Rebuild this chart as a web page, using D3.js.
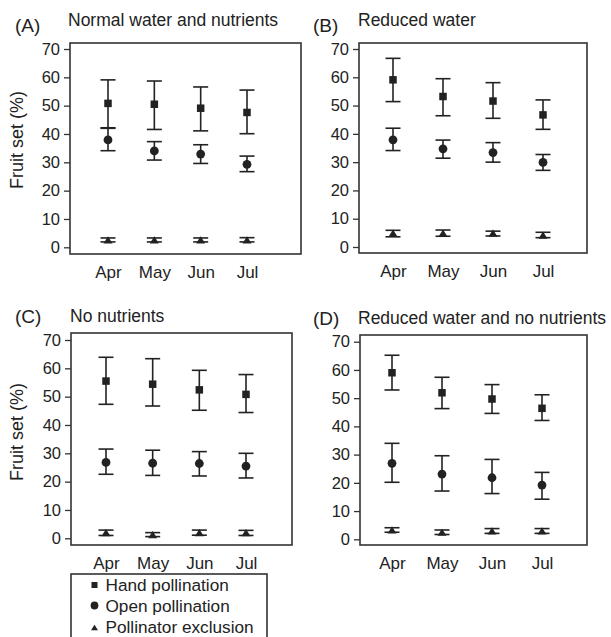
<!DOCTYPE html>
<html><head><meta charset="utf-8">
<script src="https://cdn.jsdelivr.net/npm/d3@7"></script>
<style>
html,body{margin:0;padding:0;background:#fff;}
svg{display:block;}
text{font-family:"Liberation Sans",Arial,Helvetica,sans-serif;fill:#222;}
</style></head><body>
<svg id="chart" width="611" height="637"></svg>
<script>
// ---- data: [mean, lower, upper] ----
const months = ["Apr", "May", "Jun", "Jul"];
const yTicks = [0, 10, 20, 30, 40, 50, 60, 70];
const panelLetters = ["(A)", "(B)", "(C)", "(D)"];
const panelTitles = ["Normal water and nutrients", "Reduced water", "No nutrients", "Reduced water and no nutrients"];
const seriesNames = ["Hand pollination", "Open pollination", "Pollinator exclusion"];

const handA = [[50.8, 42.2, 59.1], [50.5, 41.6, 58.7], [49.1, 41.1, 56.6], [47.6, 40.1, 55.5]];
const openA = [[37.9, 34.1, 42.0], [34.0, 30.8, 37.3], [32.9, 29.6, 36.2], [29.3, 26.7, 32.2]];
const exclA = [[2.6, 1.9, 3.3], [2.6, 1.9, 3.3], [2.6, 1.9, 3.3], [2.6, 1.9, 3.4]];

const handB = [[59.1, 51.4, 66.7], [53.2, 46.4, 59.5], [51.6, 45.5, 58.1], [46.7, 41.6, 52.0]];
const openB = [[37.9, 34.1, 42.0], [34.7, 31.4, 37.8], [33.4, 30.0, 36.9], [29.9, 27.1, 32.7]];
const exclB = [[4.9, 3.6, 5.9], [4.9, 3.8, 6.0], [4.9, 3.9, 5.6], [4.2, 3.3, 5.2]];

const handC = [[55.5, 47.3, 63.9], [54.4, 46.7, 63.4], [52.4, 45.2, 59.3], [50.8, 44.4, 57.8]];
const openC = [[26.8, 22.6, 31.5], [26.5, 22.2, 31.1], [26.4, 22.0, 30.6], [25.5, 21.3, 30.0]];
const exclC = [[2.0, 1.0, 2.9], [1.3, 0.6, 2.0], [2.0, 1.1, 2.9], [2.0, 1.0, 2.8]];

const handD = [[59.0, 52.9, 65.2], [51.9, 46.3, 57.4], [49.7, 44.6, 54.8], [46.4, 42.1, 51.2]];
const openD = [[26.9, 20.2, 34.0], [23.1, 17.1, 29.6], [21.8, 16.2, 28.3], [19.2, 14.2, 23.7]];
const exclD = [[3.3, 2.5, 4.1], [2.5, 1.7, 3.3], [3.0, 2.1, 3.8], [3.0, 2.1, 3.8]];

const panelData = [
  [handA, openA, exclA],
  [handB, openB, exclB],
  [handC, openC, exclC],
  [handD, openD, exclD]
];

// ---- layout ----
const layouts = [
  {box:[70,301,43,254], y0:247.3, y70:49,    xr:[108,247], letter:[15,32], title:[68,26],  ylab:[18,140]},
  {box:[359,587,43,253], y0:247,  y70:49,    xr:[393,543], letter:[313,32], title:[358,26], ylab:null},
  {box:[71,292,333,545], y0:538.3, y70:340,  xr:[106,246], letter:[15,323], title:[70,322], ylab:[18,432]},
  {box:[360,587,335,545], y0:539.3, y70:341.7, xr:[392,542], letter:[313,325], title:[358,324], ylab:null}
];

const ink = "#222";
const svg = d3.select("#chart");

function marker(g, type, x, y, s) {
  if (type === 0) {
    g.append("rect").attr("x", x - s/2).attr("y", y - s/2).attr("width", s).attr("height", s).attr("fill", ink);
  } else if (type === 1) {
    g.append("circle").attr("cx", x).attr("cy", y).attr("r", s/2 + 0.4).attr("fill", ink);
  } else {
    const h = s * 0.8;
    g.append("path").attr("d", `M${x - s/2},${y + h/2}L${x + s/2},${y + h/2}L${x},${y - h/2}Z`).attr("fill", ink);
  }
}

layouts.forEach((L, i) => {
  const g = svg.append("g");
  const [bl, br, bt, bb] = L.box;
  const y = d3.scaleLinear().domain([0, 70]).range([L.y0, L.y70]);
  const x = d3.scalePoint().domain(months).range(L.xr);

  // y axis
  const ax = g.append("g").attr("transform", `translate(${bl},0)`)
    .call(d3.axisLeft(y).tickValues(yTicks).tickSize(6).tickPadding(4));
  ax.select(".domain").remove();
  ax.selectAll(".tick line").attr("stroke", "#333").attr("stroke-width", 1.3);
  ax.selectAll(".tick text").attr("font-size", 16.5).style("fill", ink)
    .attr("font-family", "'Liberation Sans',Arial,sans-serif");

  // x axis labels (no ticks)
  const xa = g.append("g").attr("transform", `translate(0,${bb})`)
    .call(d3.axisBottom(x).tickSize(0).tickPadding(12));
  xa.select(".domain").remove();
  xa.selectAll(".tick text").attr("font-size", 17).style("fill", ink)
    .attr("font-family", "'Liberation Sans',Arial,sans-serif");

  // box
  g.append("rect").attr("x", bl).attr("y", bt).attr("width", br - bl).attr("height", bb - bt)
    .attr("fill", "none").attr("stroke", "#333").attr("stroke-width", 1.6);

  // titles
  g.append("text").attr("x", L.letter[0]).attr("y", L.letter[1]).attr("font-size", 19).text(panelLetters[i]);
  g.append("text").attr("x", L.title[0]).attr("y", L.title[1]).attr("font-size", 17.5).text(panelTitles[i]);
  if (L.ylab) {
    g.append("text").attr("transform", `translate(${L.ylab[0]},${L.ylab[1]}) rotate(-90)`)
      .attr("text-anchor", "middle").attr("dominant-baseline", "middle").attr("font-size", 18).text("Fruit set (%)");
  }

  // series
  const sizes = [7.5, 8, 9];
  panelData[i].forEach((series, si) => {
    series.forEach((d, mi) => {
      const cx = x(months[mi]);
      const [m, lo, hi] = d;
      const cap = 7.5;
      g.append("line").attr("x1", cx).attr("x2", cx).attr("y1", y(lo)).attr("y2", y(hi))
        .attr("stroke", ink).attr("stroke-width", 1.6);
      [lo, hi].forEach(v => g.append("line").attr("x1", cx - cap).attr("x2", cx + cap)
        .attr("y1", y(v)).attr("y2", y(v)).attr("stroke", ink).attr("stroke-width", 1.6));
      marker(g, si, cx, y(m), sizes[si]);
    });
  });
});

// legend
const lg = svg.append("g");
lg.append("rect").attr("x", 71).attr("y", 574).attr("width", 196).attr("height", 80)
  .attr("fill", "#fff").attr("stroke", "#333").attr("stroke-width", 1.6);
const legY = [585, 605.5, 627.5];
const legBase = [591, 611.5, 633];
const legSize = [6, 7, 7];
seriesNames.forEach((n, i) => {
  marker(lg, i, 94.5, legY[i], legSize[i]);
  lg.append("text").attr("x", 105.5).attr("y", legBase[i]).attr("font-size", 17.2).text(n);
});
</script>
</body></html>
